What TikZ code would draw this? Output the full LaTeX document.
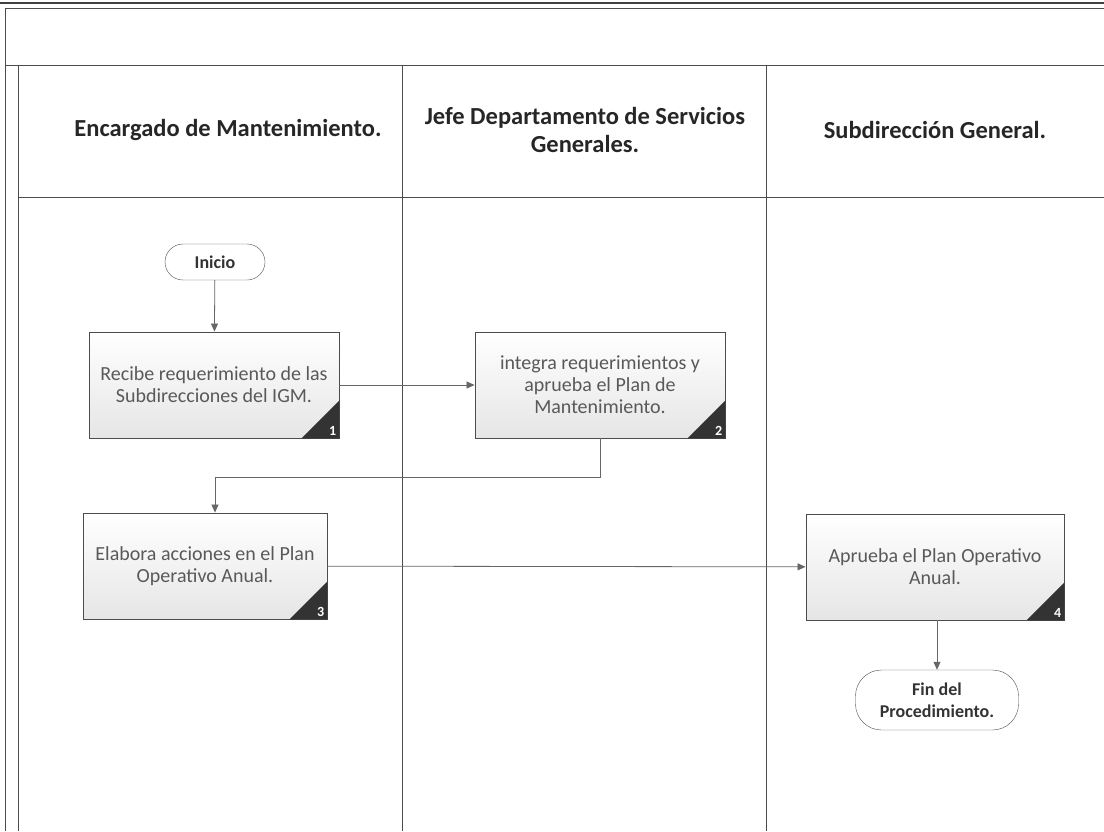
\documentclass[tikz,border=0pt]{standalone}
\usepackage{fontspec}
\setmainfont{Carlito}
\usetikzlibrary{positioning,arrows.meta}

\newcommand{\stepnum}[2]{%
  \fill[black!80] (#1.south east) -- ++(-38,0) -- ++(38,-38) -- cycle;
  \node[text=white,font=\fontsize{14}{14}\selectfont\bfseries,anchor=south east,inner sep=3pt] at (#1.south east) {#2};}

\begin{document}
\begin{tikzpicture}[x=1pt,y=-1pt,
    lane/.style={draw=black!70,line width=0.8pt},
    head/.style={align=center,font=\fontsize{24.5}{28}\selectfont\bfseries,text=black!85},
    task/.style={draw=black!70,line width=0.9pt,align=center,minimum width=250pt,minimum height=106pt,
      top color=white,bottom color=black!10,text=black!65,font=\fontsize{20}{22}\selectfont},
    term/.style={draw=black!70,rounded corners=18pt,align=center,minimum height=36pt,
      font=\fontsize{18}{22}\selectfont\bfseries,text=black!80},
    flow/.style={draw=black!60,line width=0.8pt,-{Triangle[length=8pt,width=7pt]}}]
    \useasboundingbox (0,0) rectangle (1104,831);

    % frame and swimlanes
    \draw[line width=2pt,black!75] (0,3) -- (1104,3);
    \draw[lane] (5,831) -- (5,8) -- (1104,8);
    \draw[lane] (5,65) -- (1104,65);
    \draw[lane] (18,65) -- (18,831);
    \draw[lane] (402,65) -- (402,831);
    \draw[lane] (766,65) -- (766,831);
    \draw[lane] (18,197) -- (1104,197);

    \node[head] (h1) at (228,130) {Encargado de Mantenimiento.};
    \node[head] (h2) at (585,130) {Jefe Departamento de Servicios\\Generales.};
    \node[head] (h3) at (935,130) {Subdirección General.};

    \node[term,minimum width=100pt] (inicio) at (215,262) {Inicio};
    \node[task] (t1) at (214,385) {Recibe requerimiento de las\\Subdirecciones del IGM.};
    \node[task] (t2) at (600,385) {integra requerimientos y\\aprueba el Plan de\\Mantenimiento.};
    \node[task,minimum width=244pt] (t3) at (205,566) {Elabora acciones en el Plan\\Operativo Anual.};
    \node[task,minimum width=258pt] (t4) at (935,567) {Aprueba el Plan Operativo\\Anual.};
    \node[term,minimum width=163pt,minimum height=60pt,rounded corners=26pt] (fin) at (937,700) {Fin del\\Procedimiento.};

    \stepnum{t1}{1}
    \stepnum{t2}{2}
    \stepnum{t3}{3}
    \stepnum{t4}{4}

    \draw[flow] (inicio) -- (t1);
    \draw[flow] (t1) -- (t2);
    \draw[flow] (t2.south) |- (215,477) -- (t3.north -| 215,0);
    \draw[flow] (t3) -- (t4);
    \draw[flow] (t4.south -| fin) -- (fin);

\end{tikzpicture}
\end{document}
